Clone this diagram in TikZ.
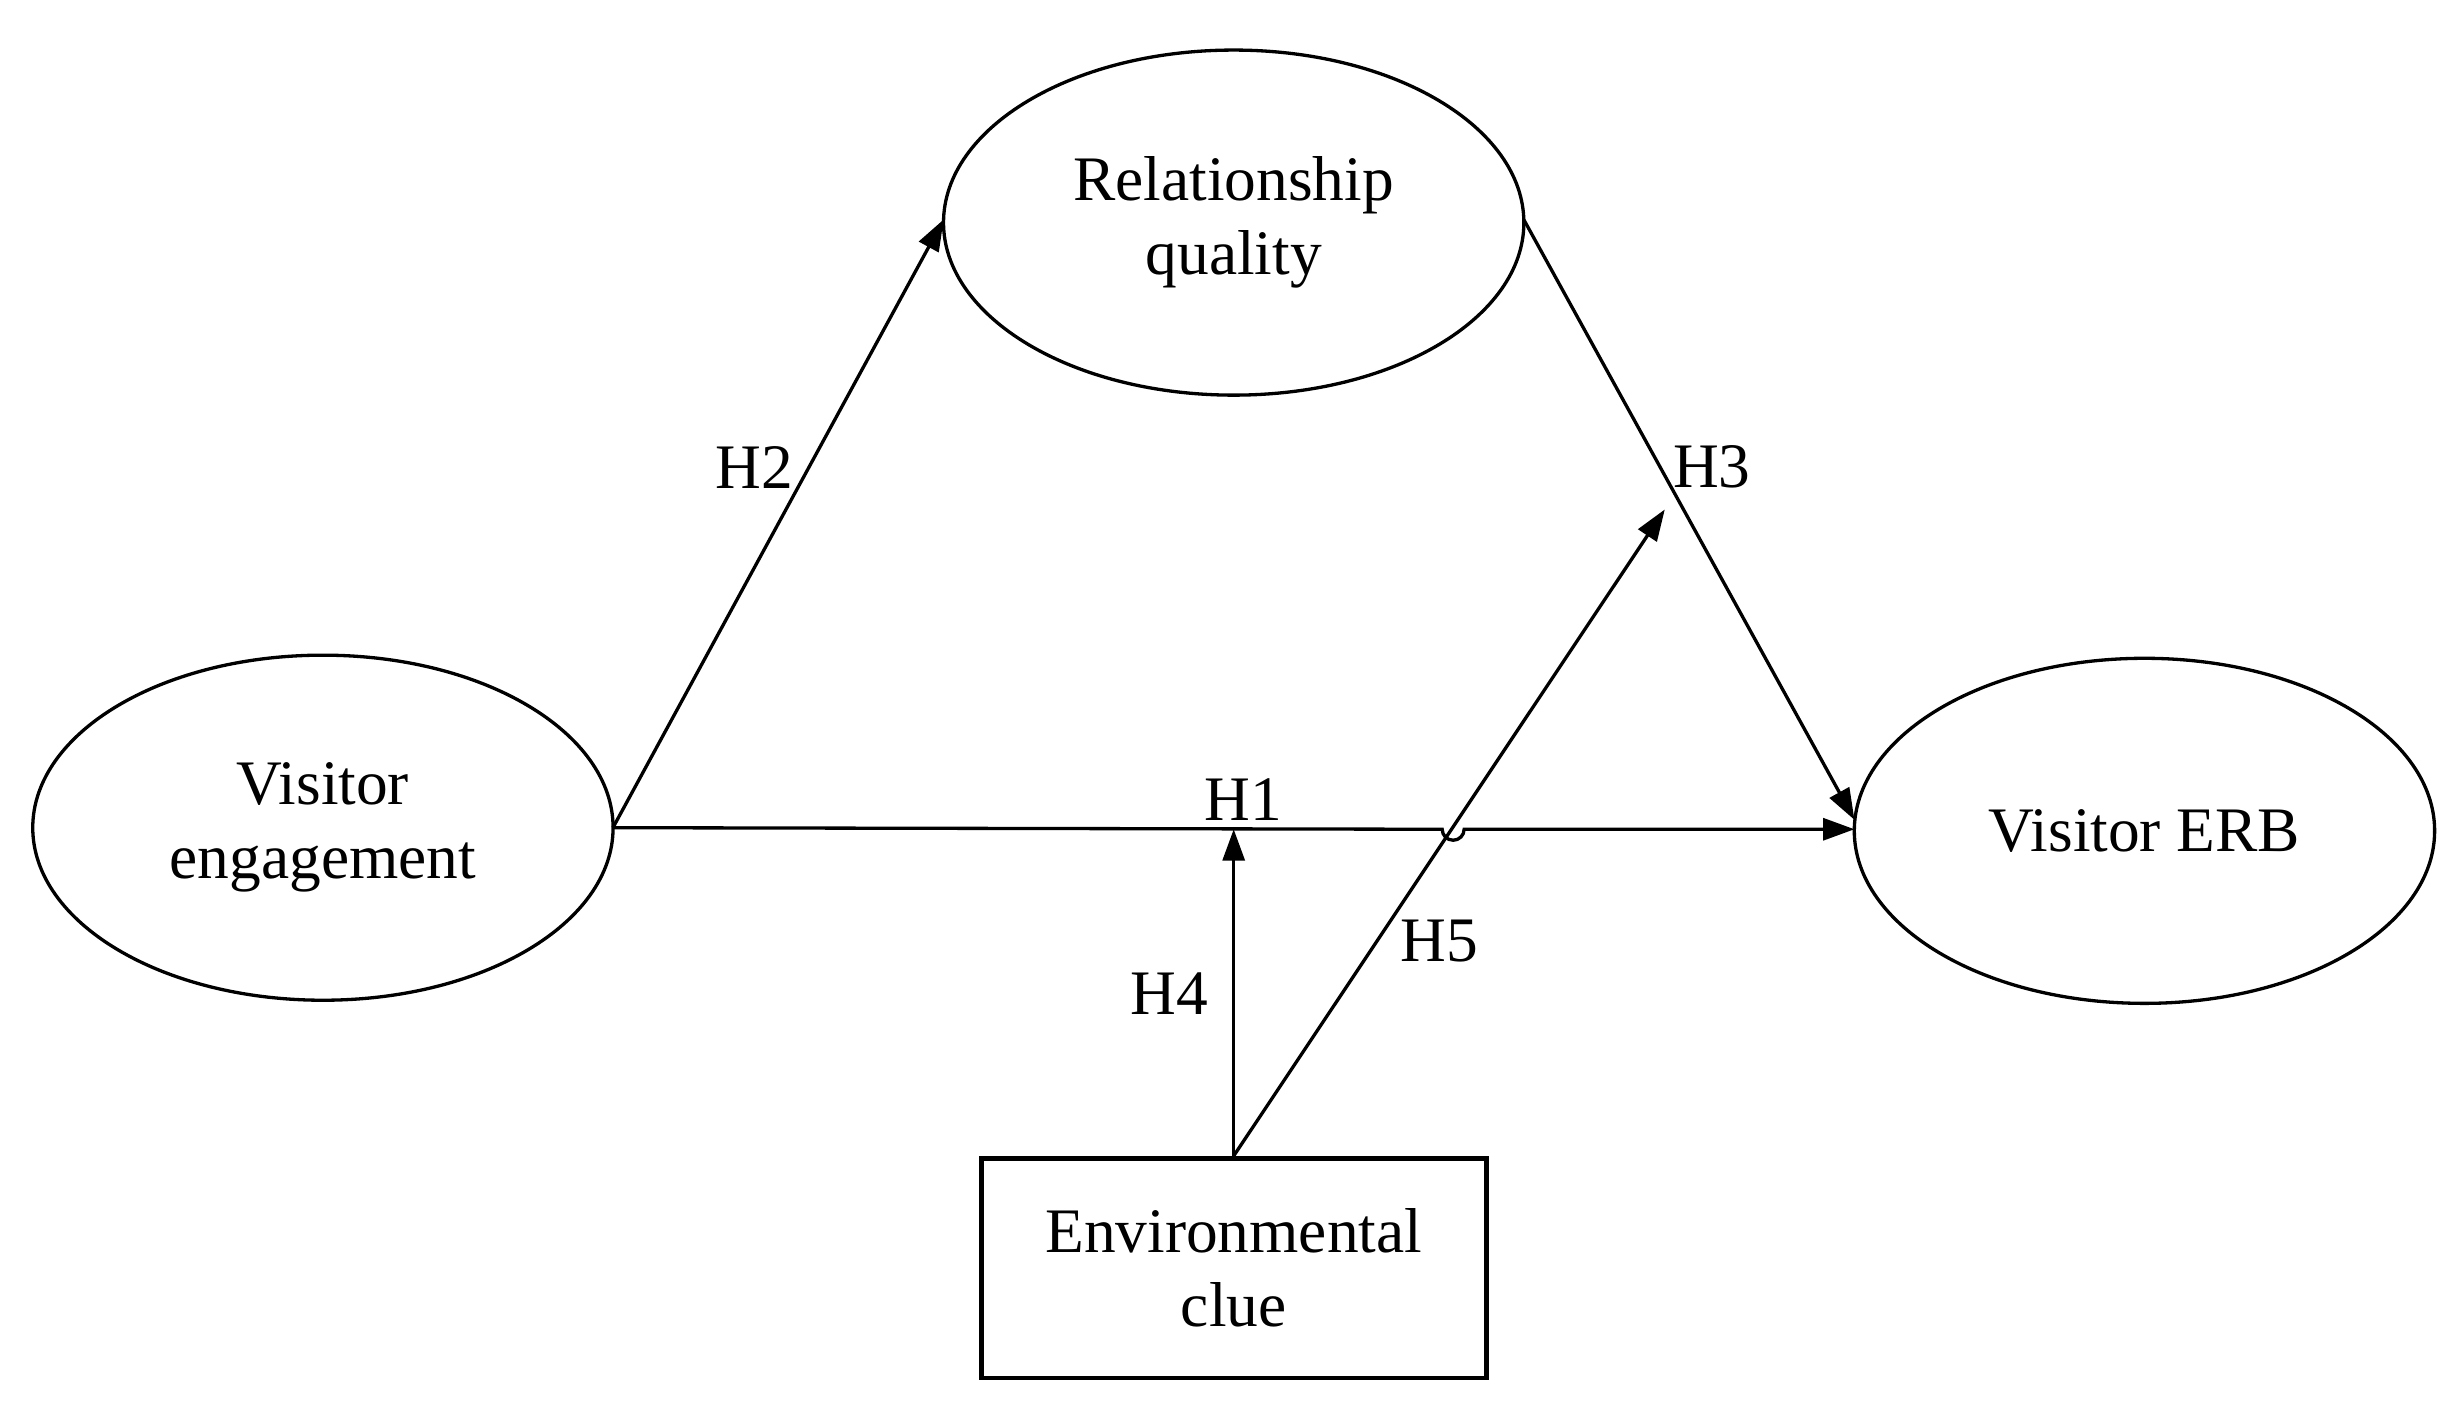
\documentclass[tikz,border=0pt]{standalone}
\usepackage{fontspec}
\setmainfont{Liberation Serif}
\usetikzlibrary{shapes.geometric,arrows.meta}
\begin{document}
\begin{tikzpicture}[x=0.01cm,y=-0.01cm,
  every node/.style={font=\fontsize{11.5}{13.4}\selectfont},
  ell/.style={draw,ellipse,line width=0.6pt,minimum width=3.7cm,minimum height=2.2cm,inner sep=0pt,align=center},
  box/.style={draw,rectangle,line width=0.9pt,minimum width=3.22cm,minimum height=1.4cm,inner sep=0pt,align=center},
  arr/.style={line width=0.6pt,-{Triangle[length=0.2cm,width=0.14cm]}},
  lab/.style={inner sep=1pt}]
\useasboundingbox (0,0) rectangle (1568,900);
\node[ell] (rq) at (787,142) {Relationship\\quality};
\node[ell] (ve) at (206,528) {Visitor\\engagement};
\node[ell] (erb) at (1368,530) {Visitor ERB};
\node[box] (ec) at (787,809) {Environmental\\clue};
\coordinate (veE) at (391,528);
\coordinate (erbW) at (1183,529);
\coordinate (h1pt) at (787,529);
\coordinate (h3pt) at (1062,325);
\draw[arr] (veE) -- (602,140);
\draw[arr] (972,140) -- (1183,523);
\draw[arr] (veE) -- (920,529) arc[start angle=180,end angle=0,radius=7] -- (erbW);
\draw[arr] (ec.north) -- (h1pt);
\draw[arr] (ec.north) -- (h3pt);
\node[lab] (l2) at (481,298) {H2};
\node[lab] (l3) at (1092,298) {H3};
\node[lab] (l1) at (793,510) {H1};
\node[lab] (l4) at (746,634) {H4};
\node[lab] (l5) at (918,600) {H5};
\end{tikzpicture}
\end{document}
